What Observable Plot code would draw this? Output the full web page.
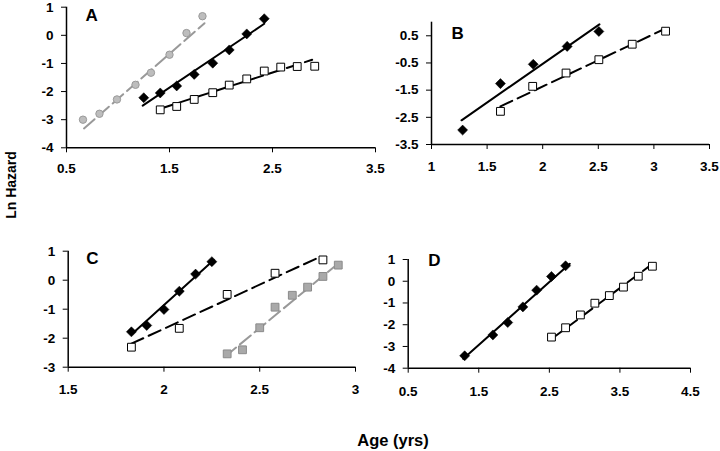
<!DOCTYPE html>
<html><head><meta charset="utf-8">
<script src="https://cdn.jsdelivr.net/npm/d3@7"></script>
<script src="https://cdn.jsdelivr.net/npm/@observablehq/plot@0.6"></script>
<style>
body{margin:0;background:#fff;}
#wrap{position:relative;width:720px;height:451px;background:#fff;font-family:"Liberation Sans",Arial,sans-serif;font-weight:bold;color:#000;}
.p{position:absolute;}
.lab{position:absolute;white-space:nowrap;}
</style>
</head><body><div id="wrap"></div>
<script>
// ---------- Panel A ----------
const aGrayX = [0.66, 0.82, 0.99, 1.17, 1.32, 1.50, 1.665, 1.82];
const aGrayY = [-3.0, -2.79, -2.28, -1.76, -1.33, -0.69, 0.08, 0.68];
const aGrayFitX = [0.67, 1.84];
const aGrayFitY = [-3.31, 0.43];
const aBlackX = [1.25, 1.41, 1.57, 1.74, 1.92, 2.08, 2.25, 2.42];
const aBlackY = [-2.22, -2.05, -1.80, -1.39, -0.99, -0.52, 0.05, 0.59];
const aBlackFitX = [1.24, 2.42];
const aBlackFitY = [-2.50, 0.41];
const aOpenX = [1.41, 1.57, 1.74, 1.92, 2.08, 2.25, 2.42, 2.58, 2.74, 2.91];
const aOpenY = [-2.65, -2.53, -2.28, -2.04, -1.77, -1.55, -1.27, -1.13, -1.11, -1.10];
const aOpenFitX = [1.41, 2.885];
const aOpenFitY = [-2.61, -0.87];
const aXTicks = [0.5, 1.5, 2.5, 3.5];
const aYTicks = [-4, -3, -2, -1, 0, 1];

// ---------- Panel B ----------
const bBlackX = [1.28, 1.62, 1.915, 2.22, 2.505];
const bBlackY = [-2.97, -1.26, -0.55, 0.11, 0.66];
const bBlackFitX = [1.27, 2.51];
const bBlackFitY = [-2.61, 0.92];
const bOpenX = [1.62, 1.91, 2.21, 2.505, 2.805, 3.105];
const bOpenY = [-2.28, -1.36, -0.87, -0.38, 0.19, 0.67];
const bOpenFitX = [1.62, 3.10];
const bOpenFitY = [-2.10, 0.76];
const bXTicks = [1, 1.5, 2, 2.5, 3, 3.5];
const bYTicks = [-3.5, -2.5, -1.5, -0.5, 0.5];

// ---------- Panel C ----------
const cBlackX = [1.83, 1.91, 2.0, 2.08, 2.165, 2.25];
const cBlackY = [-1.78, -1.56, -1.01, -0.38, 0.21, 0.64];
const cBlackFitX = [1.83, 2.26];
const cBlackFitY = [-1.87, 0.70];
const cOpenX = [1.83, 2.08, 2.33, 2.58, 2.83];
const cOpenY = [-2.31, -1.66, -0.49, 0.24, 0.70];
const cOpenFitX = [1.83, 2.81];
const cOpenFitY = [-2.19, 0.79];
const cGrayX = [2.33, 2.41, 2.50, 2.58, 2.67, 2.75, 2.83, 2.91];
const cGrayY = [-2.54, -2.40, -1.64, -0.93, -0.52, -0.24, 0.13, 0.52];
const cGrayFitX = [2.32, 2.886];
const cGrayFitY = [-2.63, 0.45];
const cXTicks = [1.5, 2, 2.5, 3];
const cYTicks = [-3, -2, -1, 0, 1];

// ---------- Panel D ----------
const dBlackX = [1.30, 1.70, 1.91, 2.125, 2.32, 2.53, 2.73];
const dBlackY = [-3.43, -2.47, -1.90, -1.18, -0.41, 0.22, 0.71];
const dBlackFitX = [1.28, 2.79];
const dBlackFitY = [-3.57, 0.80];
const dOpenX = [2.53, 2.73, 2.94, 3.145, 3.35, 3.55, 3.76, 3.96];
const dOpenY = [-2.57, -2.14, -1.55, -1.01, -0.66, -0.27, 0.23, 0.69];
const dOpenFitX = [2.53, 3.96];
const dOpenFitY = [-2.66, 0.80];
const dXTicks = [0.5, 1.5, 2.5, 3.5, 4.5];
const dYTicks = [-4, -3, -2, -1, 0, 1];

const yLabel = "Ln Hazard";
const xLabel = "Age (yrs)";

const styles = {
  diamond: {symbol: "square", rotate: 45, r: 4, fill: "#000", stroke: "#000", strokeWidth: 0.5},
  open: {symbol: "square", r: 4.4, fill: "#fff", stroke: "#000", strokeWidth: 1},
  grayCircle: {symbol: "circle", r: 3.7, fill: "#bdbdbd", stroke: "#9a9a9a", strokeWidth: 1},
  graySquare: {symbol: "square", r: 4.4, fill: "#a9a9a9", stroke: "#8a8a8a", strokeWidth: 1}
};
const lineStyles = {
  solid: {stroke: "#000", strokeWidth: 2},
  dash: {stroke: "#000", strokeWidth: 2, strokeDasharray: "13,6"},
  grayDash: {stroke: "#999", strokeWidth: 2, strokeDasharray: "14,5"}
};

const zipPts = (xs, ys) => xs.map((x, i) => ({x, y: ys[i]}));

function panel(cfg) {
  const marks = [
    Plot.ruleX([cfg.xDomain[0]], {stroke: "#000", strokeWidth: 1.5}),
    Plot.ruleY([cfg.yDomain[0]], {stroke: "#000", strokeWidth: 1.5})
  ];
  for (const s of cfg.series) {
    marks.push(Plot.line(zipPts(s.fitX, s.fitY), {x: "x", y: "y", ...lineStyles[s.line]}));
  }
  for (const s of cfg.series) {
    marks.push(Plot.dot(zipPts(s.x, s.y), {x: "x", y: "y", ...styles[s.marker]}));
  }
  marks.push(Plot.text([cfg.letter], {text: d => d, frameAnchor: "top-left", textAnchor: "start", lineAnchor: "top",
    dx: cfg.ldx, dy: cfg.ldy, fontSize: 17, fontWeight: "bold"}));
  const svg = Plot.plot({
    width: cfg.width, height: cfg.height,
    marginLeft: cfg.ml, marginRight: cfg.mr, marginTop: cfg.mt, marginBottom: cfg.mb,
    x: {domain: cfg.xDomain, ticks: cfg.xTicks, tickFormat: d => String(d), tickSize: 5, tickPadding: cfg.xPad, label: null},
    y: {domain: cfg.yDomain, ticks: cfg.yTicks, tickFormat: d => String(d), tickSize: 5, tickPadding: 8, label: null},
    style: {fontFamily: "'Liberation Sans', Arial, sans-serif", fontSize: "13.5px", fontWeight: "bold", color: "#000", background: "transparent", overflow: "visible"},
    marks
  });
  svg.classList.add("p");
  svg.style.left = cfg.left + "px";
  svg.style.top = cfg.top + "px";
  document.getElementById("wrap").appendChild(svg);
}

panel({letter: "A", left: 0, top: 0, width: 390, height: 180, ml: 66, mr: 15, mt: 6.7, mb: 32.7, xPad: 11,
  xDomain: [0.5, 3.5], yDomain: [-4, 1], xTicks: aXTicks, yTicks: aYTicks, ldx: 19, ldy: 2,
  series: [
    {x: aGrayX, y: aGrayY, fitX: aGrayFitX, fitY: aGrayFitY, marker: "grayCircle", line: "grayDash"},
    {x: aBlackX, y: aBlackY, fitX: aBlackFitX, fitY: aBlackFitY, marker: "diamond", line: "solid"},
    {x: aOpenX, y: aOpenY, fitX: aOpenFitX, fitY: aOpenFitY, marker: "open", line: "dash"}
  ]});

panel({letter: "B", left: 360, top: 0, width: 360, height: 180, ml: 71, mr: 11, mt: 21.7, mb: 36, xPad: 12,
  xDomain: [1, 3.5], yDomain: [-3.5, 1], xTicks: bXTicks, yTicks: bYTicks, ldx: 20, ldy: 5,
  series: [
    {x: bBlackX, y: bBlackY, fitX: bBlackFitX, fitY: bBlackFitY, marker: "diamond", line: "solid"},
    {x: bOpenX, y: bOpenY, fitX: bOpenFitX, fitY: bOpenFitY, marker: "open", line: "dash"}
  ]});

panel({letter: "C", left: 0, top: 230, width: 380, height: 180, ml: 67.7, mr: 25, mt: 20.7, mb: 43.3, xPad: 12,
  xDomain: [1.5, 3], yDomain: [-3, 1], xTicks: cXTicks, yTicks: cYTicks, ldx: 18, ldy: 1,
  series: [
    {x: cBlackX, y: cBlackY, fitX: cBlackFitX, fitY: cBlackFitY, marker: "diamond", line: "solid"},
    {x: cOpenX, y: cOpenY, fitX: cOpenFitX, fitY: cOpenFitY, marker: "open", line: "dash"},
    {x: cGrayX, y: cGrayY, fitX: cGrayFitX, fitY: cGrayFitY, marker: "graySquare", line: "grayDash"}
  ]});

panel({letter: "D", left: 360, top: 230, width: 360, height: 180, ml: 47.7, mr: 30, mt: 29, mb: 42.3, xPad: 13,
  xDomain: [0.5, 4.5], yDomain: [-4, 1], xTicks: dXTicks, yTicks: dYTicks, ldx: 20, ldy: -6,
  series: [
    {x: dBlackX, y: dBlackY, fitX: dBlackFitX, fitY: dBlackFitY, marker: "diamond", line: "solid"},
    {x: dOpenX, y: dOpenY, fitX: dOpenFitX, fitY: dOpenFitY, marker: "open", line: "dash"}
  ]});

const wrap = document.getElementById("wrap");
const yl = document.createElement("div");
yl.className = "lab";
yl.textContent = yLabel;
yl.style.cssText += "left:11px;top:185px;font-size:14px;transform:translate(-50%,-50%) rotate(-90deg);";
wrap.appendChild(yl);
const xl = document.createElement("div");
xl.className = "lab";
xl.textContent = xLabel;
xl.style.cssText += "left:393px;top:440px;font-size:16.5px;transform:translate(-50%,-50%);";
wrap.appendChild(xl);
</script>
</body></html>
